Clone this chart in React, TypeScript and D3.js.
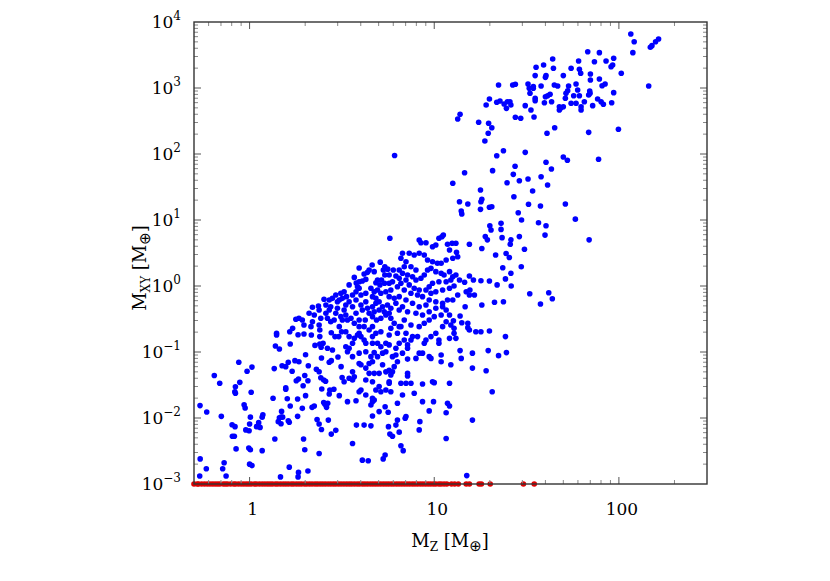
import React, { useEffect, useRef } from "react";
import * as d3 from "d3";

type Pt = [number, number]; // [M_Z, M_XY] in Earth masses

// lower-left tail of the cloud (M_Z < 3.2, M_XY < 0.22)
const lowLeft: Pt[] = [
  [1.40, 0.192], [1.40, 0.181], [1.65, 0.203], [1.83, 0.183], [1.97, 0.187], [2.16, 0.181], [2.40, 0.171], [2.40, 0.216],
  [2.77, 0.196], [2.90, 0.171], [3.04, 0.171], [3.15, 0.203], [1.38, 0.123], [1.45, 0.111], [1.66, 0.132], [2.01, 0.091],
  [2.26, 0.126], [2.40, 0.132], [2.50, 0.136], [2.44, 0.118], [2.64, 0.114], [2.81, 0.107], [0.874, 0.070], [1.03, 0.059],
  [0.969, 0.051], [1.36, 0.056], [1.50, 0.062], [1.57, 0.060], [1.62, 0.070], [1.76, 0.074], [1.85, 0.071], [1.70, 0.051],
  [2.08, 0.062], [2.45, 0.081], [2.70, 0.070], [2.77, 0.074], [3.01, 0.084], [3.13, 0.060], [3.17, 0.041], [0.644, 0.044],
  [0.689, 0.0336], [0.838, 0.0298], [0.885, 0.0347], [0.832, 0.025], [0.838, 0.0237], [1.02, 0.0245], [1.84, 0.039],
  [1.79, 0.0367], [1.99, 0.044], [2.07, 0.0367], [1.95, 0.0308], [2.30, 0.0547], [2.38, 0.0503], [2.43, 0.0408],
  [2.52, 0.0377], [2.58, 0.036], [2.46, 0.0275], [2.72, 0.0266], [2.70, 0.0231], [2.86, 0.0272], [3.06, 0.0218],
  [1.57, 0.0288], [1.57, 0.0272], [1.34, 0.0199], [1.60, 0.0196], [1.82, 0.0194], [2.01, 0.0218], [1.66, 0.0152],
  [1.93, 0.014], [2.18, 0.0145], [2.24, 0.0152], [0.539, 0.0154], [0.586, 0.0123], [0.703, 0.0106], [0.934, 0.0159],
  [0.946, 0.0142], [1.01, 0.0103], [1.18, 0.0112], [1.17, 0.0103], [1.12, 0.0085], [1.14, 0.0072], [1.09, 0.0074],
  [1.0, 0.0081], [0.954, 0.0066], [0.994, 0.0064], [1.49, 0.0126], [1.45, 0.0101], [1.48, 0.0103], [1.51, 0.0103],
  [1.43, 0.0088], [1.48, 0.0082], [1.62, 0.0091], [1.64, 0.0086], [1.82, 0.0106], [2.52, 0.0171], [2.56, 0.0161],
  [2.61, 0.0145], [2.65, 0.0167], [2.32, 0.0095], [2.38, 0.0081], [2.45, 0.0067], [2.67, 0.0093], [2.77, 0.0057],
  [2.93, 0.0065], [0.804, 0.0079], [0.834, 0.0074], [0.807, 0.0053], [0.827, 0.0053], [0.845, 0.0034], [0.99, 0.0035],
  [1.01, 0.0033], [1.17, 0.0032], [1.37, 0.0048], [1.96, 0.0048], [1.99, 0.0033], [2.38, 0.0029], [0.54, 0.0024],
  [0.583, 0.0017], [0.728, 0.0021], [0.715, 0.0017], [0.746, 0.00132], [0.537, 0.00132], [1.0, 0.002], [1.03, 0.0019],
  [1.47, 0.00128], [1.64, 0.0018], [1.84, 0.0015], [1.83, 0.00128], [2.07, 0.00157],
];

// lower middle (M_Z 3.2 - 20, M_XY < 0.22)
const lowMid: Pt[] = [
  [3.32, 0.203], [3.84, 0.181], [3.92, 0.192], [4.01, 0.171], [4.44, 0.216], [4.83, 0.192], [5.14, 0.203], [4.93, 0.136],
  [4.63, 0.136], [4.26, 0.136], [5.47, 0.136], [5.70, 0.181], [6.32, 0.192], [6.46, 0.136], [6.88, 0.152], [7.17, 0.128],
  [7.48, 0.152], [7.63, 0.171], [7.03, 0.192], [8.12, 0.171], [9.02, 0.152], [8.83, 0.136], [9.60, 0.171], [10.2, 0.192],
  [10.6, 0.152], [10.6, 0.136], [12.1, 0.161], [12.8, 0.192], [13.1, 0.161], [16.8, 0.203], [17.9, 0.203], [15.5, 0.216],
  [3.32, 0.12], [3.46, 0.114], [3.39, 0.101], [3.61, 0.136], [3.61, 0.085], [3.92, 0.096], [4.26, 0.101], [4.54, 0.085],
  [4.73, 0.098], [5.25, 0.096], [5.47, 0.101], [5.94, 0.085], [6.20, 0.09], [6.32, 0.071], [7.17, 0.114], [7.17, 0.078],
  [7.96, 0.08], [8.29, 0.096], [8.64, 0.096], [9.39, 0.085], [9.60, 0.08], [10.9, 0.09], [10.9, 0.071], [12.3, 0.064],
  [14.0, 0.08], [16.1, 0.096], [16.1, 0.057], [19.1, 0.052], [19.6, 0.105], [13.8, 0.105], [3.61, 0.05], [3.25, 0.0355],
  [3.46, 0.04], [3.61, 0.0377], [3.69, 0.042], [4.01, 0.064], [4.26, 0.057], [4.44, 0.067], [4.63, 0.071], [5.03, 0.0475],
  [4.73, 0.0475], [5.47, 0.05], [5.70, 0.053], [5.94, 0.05], [6.07, 0.06], [5.70, 0.0355], [5.70, 0.0336], [5.82, 0.045],
  [5.03, 0.03], [5.14, 0.025], [4.83, 0.0266], [4.63, 0.0355], [4.26, 0.0377], [4.01, 0.0266], [3.92, 0.025],
  [3.39, 0.0177], [3.77, 0.0183], [4.26, 0.0223], [4.63, 0.0199], [4.63, 0.0177], [4.54, 0.0157], [4.73, 0.0187],
  [5.47, 0.0266], [5.82, 0.025], [6.60, 0.0336], [7.03, 0.0336], [7.48, 0.0336], [7.17, 0.0475], [7.17, 0.0433],
  [7.79, 0.0237], [6.73, 0.0223], [6.32, 0.0167], [8.64, 0.0327], [9.79, 0.0355], [10.0, 0.0343], [12.1, 0.0336],
  [8.64, 0.0177], [9.91, 0.0177], [11.8, 0.0167], [12.1, 0.0152], [9.39, 0.0128], [11.6, 0.012], [16.1, 0.0093],
  [5.03, 0.0125], [5.42, 0.0148], [5.63, 0.0122], [4.63, 0.0107], [6.32, 0.0093], [6.20, 0.0078], [7.03, 0.0105],
  [6.96, 0.0099], [8.36, 0.0088], [8.29, 0.0066], [6.46, 0.0061], [5.65, 0.0074], [5.75, 0.0057], [5.94, 0.0053],
  [3.79, 0.0078], [4.17, 0.0078], [4.54, 0.0076], [11.6, 0.0049], [3.61, 0.0041], [6.60, 0.0038], [6.79, 0.0032],
  [5.42, 0.00275], [5.29, 0.0024], [4.08, 0.0023], [4.39, 0.00225], [15.0, 0.00134], [3.46, 0.171], [3.69, 0.161],
  [4.17, 0.152], [4.63, 0.171], [5.14, 0.12], [5.70, 0.128], [6.20, 0.114], [6.73, 0.096], [4.93, 0.085], [3.92, 0.067],
  [5.25, 0.064], [4.44, 0.0475],
];

// main clump, M_Z 1.7 - 6.5, M_XY 0.22 - 5
const coreLeft: Pt[] = [
  [5.75, 5.3], [5.1, 2.3], [5.3, 1.75], [5.6, 1.8], [6.0, 1.75], [5.4, 1.96], [6.2, 1.42], [5.7, 1.47], [5.4, 1.47],
  [5.18, 1.23], [4.93, 1.23], [4.73, 1.65], [4.35, 1.61], [4.83, 1.12], [5.08, 1.04], [5.38, 1.1], [5.7, 1.1], [3.69, 1.35],
  [3.46, 1.04], [3.92, 1.16], [4.08, 1.19], [4.26, 1.26], [3.92, 0.923], [3.77, 0.82], [4.01, 0.73], [4.26, 0.775],
  [4.54, 0.923], [4.73, 0.82], [4.93, 0.87], [5.14, 0.775], [5.47, 0.82], [5.82, 0.87], [3.25, 0.82], [3.12, 0.775],
  [3.35, 0.69], [2.93, 0.73], [3.06, 0.614], [2.7, 0.614], [2.81, 0.65], [2.53, 0.63], [2.59, 0.515], [2.75, 0.486],
  [2.99, 0.46], [3.32, 0.515], [3.46, 0.578], [3.77, 0.614], [3.61, 0.486], [4.01, 0.515], [4.26, 0.578], [4.35, 0.46],
  [4.63, 0.486], [4.83, 0.547], [5.03, 0.578], [5.25, 0.486], [5.58, 0.515], [5.82, 0.46], [2.19, 0.476], [2.36, 0.498],
  [2.38, 0.433], [2.24, 0.364], [2.1, 0.386], [1.85, 0.324], [1.78, 0.313], [1.93, 0.305], [1.97, 0.256], [1.71, 0.229],
  [2.43, 0.324], [2.59, 0.386], [2.64, 0.324], [2.75, 0.288], [2.87, 0.305], [3.12, 0.343], [3.18, 0.305], [3.32, 0.364],
  [3.54, 0.324], [3.69, 0.272], [3.92, 0.242], [4.23, 0.305], [4.63, 0.343], [4.87, 0.305], [5.14, 0.324], [5.47, 0.364],
  [5.82, 0.324], [3.06, 0.242], [2.15, 0.242], [4.63, 0.242], [5.82, 0.229], [2.7, 0.433], [2.93, 0.386], [3.25, 0.433],
  [3.39, 0.305], [3.77, 0.386], [4.08, 0.433], [4.44, 0.386], [4.73, 0.408], [5.03, 0.433], [5.36, 0.408], [5.7, 0.386],
  [6.2, 0.547], [6.46, 0.69], [2.38, 0.256], [2.19, 0.288], [3.92, 0.305], [4.17, 0.242], [6.07, 0.272], [6.46, 0.242],
  [2.99, 0.578], [3.18, 0.65], [3.61, 0.73], [3.84, 0.976], [4.63, 0.69], [4.83, 0.65], [5.7, 0.69], [6.07, 0.65],
  [6.32, 0.976], [5.94, 1.16], [6.46, 1.31], [4.44, 1.75], [3.92, 1.87], [4.61, 2.08], [4.17, 1.52], [3.78, 1.11],
];

// main clump, M_Z 6.5 - 42, M_XY 0.17 - 19
const coreRight: Pt[] = [
  [13.7, 18.9], [15.2, 17.5], [17.9, 18.9], [19.9, 15.6], [20.5, 15.9], [17.8, 14.5], [14.0, 13.7], [14.1, 12.3],
  [32.4, 17.3], [37.6, 16.3], [28.5, 12.9], [29.7, 10.0], [36.7, 9.1], [40.3, 8.2], [39.8, 5.9], [23.0, 8.9], [23.0, 7.2],
  [20.0, 8.2], [20.3, 7.05], [18.9, 5.6], [19.4, 5.0], [23.3, 5.4], [26.0, 5.0], [25.8, 4.3], [28.9, 5.6], [18.1, 3.7],
  [15.5, 4.3], [21.5, 2.95], [24.5, 3.1], [25.5, 2.7], [30.8, 3.6], [29.6, 1.96], [23.5, 1.89], [26.0, 1.56], [24.3, 1.28],
  [21.9, 1.04], [26.1, 1.0], [19.9, 1.19], [17.9, 1.2], [16.3, 1.23], [15.5, 1.42], [14.6, 1.14], [14.9, 0.82],
  [15.6, 0.87], [16.5, 0.73], [15.5, 0.73], [18.1, 0.515], [21.2, 0.566], [23.7, 0.578], [32.9, 0.764], [41.7, 0.79],
  [37.6, 0.534], [14.7, 0.486], [13.8, 0.351], [12.7, 0.298], [14.1, 0.278], [15.2, 0.272], [15.2, 0.234], [12.8, 0.229],
  [24.3, 0.171], [19.9, 0.208], [8.29, 4.98], [8.47, 4.53], [9.02, 4.53], [9.79, 3.94], [10.2, 4.18], [11.0, 5.58],
  [11.2, 5.92], [10.6, 5.28], [11.8, 4.28], [12.5, 4.44], [13.1, 4.44], [12.1, 3.51], [13.2, 3.24], [13.4, 2.78],
  [12.6, 2.63], [11.6, 2.48], [10.9, 2.21], [10.4, 2.21], [9.79, 2.33], [9.2, 2.48], [8.83, 2.95], [8.29, 3.13],
  [7.79, 2.95], [7.32, 3.13], [6.73, 3.13], [6.6, 2.63], [7.03, 2.33], [7.48, 1.96], [7.96, 1.75], [6.88, 1.96],
  [6.46, 1.75], [6.73, 1.56], [7.17, 1.47], [7.63, 1.38], [7.96, 1.23], [8.47, 1.31], [8.83, 1.47], [9.2, 1.75],
  [9.6, 1.85], [10.2, 1.65], [10.9, 1.56], [11.3, 1.47], [12.1, 1.65], [12.6, 1.38], [13.1, 1.47], [13.7, 1.23],
  [12.3, 1.23], [11.6, 1.16], [10.6, 1.16], [9.79, 1.1], [9.39, 0.976], [9.02, 0.87], [8.29, 0.87], [7.79, 0.923],
  [7.32, 1.04], [7.03, 1.23], [6.6, 1.1], [6.88, 0.87], [7.48, 0.775], [8.12, 0.73], [8.64, 0.69], [9.6, 0.775],
  [10.2, 0.82], [11.1, 0.87], [12.1, 0.923], [12.8, 1.0], [13.4, 0.73], [12.6, 0.614], [11.8, 0.614], [11.1, 0.547],
  [10.2, 0.578], [9.39, 0.614], [9.02, 0.515], [8.29, 0.486], [7.63, 0.547], [7.03, 0.614], [6.73, 0.486], [6.46, 0.433],
  [7.17, 0.408], [7.96, 0.386], [8.64, 0.364], [9.39, 0.408], [10.2, 0.46], [11.1, 0.486], [11.6, 0.433], [12.1, 0.364],
  [10.9, 0.364], [10.0, 0.343], [9.39, 0.305], [8.83, 0.272], [8.29, 0.242], [7.48, 0.256], [6.88, 0.305], [6.6, 0.242],
  [11.1, 0.242], [11.6, 0.288], [12.3, 0.256],
];

// upper arm, M_Z 12 - 170, M_XY 10 - 7000
const upperArm: Pt[] = [
  [35.6, 2060], [39.1, 2230], [44.2, 1990], [55.1, 1990], [61.1, 1920], [60.5, 2570], [73.7, 2500], [85.2, 2570],
  [90.7, 2100], [92.5, 2230], [103, 1670], [35.2, 1540], [40.0, 1450], [40.3, 1540], [50.0, 1540], [62.1, 1670],
  [70.1, 1630], [70.1, 1320], [78.4, 1370], [84.2, 1150], [81.1, 1080], [22.3, 1110], [26.6, 1110], [27.5, 1140],
  [32.2, 1150], [32.7, 990], [34.4, 1050], [34.4, 990], [37.9, 1070], [44.7, 1110], [46.6, 1070], [53.4, 1070],
  [58.6, 1150], [52.8, 910], [59.8, 933], [56.9, 764], [61.1, 764], [69.5, 901], [69.8, 832], [93.7, 850], [19.9, 681],
  [19.1, 552], [21.8, 607], [22.7, 635], [23.9, 573], [24.9, 620], [25.7, 620], [26.0, 552], [24.6, 492], [31.1, 540],
  [33.0, 832], [33.4, 464], [35.2, 698], [35.2, 643], [40.0, 738], [41.1, 764], [39.5, 598], [42.4, 803], [43.2, 620],
  [47.6, 521], [47.6, 464], [48.6, 503], [50.0, 521], [51.3, 698], [51.7, 832], [55.1, 586], [58.6, 586], [62.4, 521],
  [62.4, 464], [65.0, 620], [68.6, 783], [72.1, 540], [76.7, 681], [80.1, 620], [82.4, 566], [91.4, 598], [13.8, 400],
  [13.4, 339], [17.4, 302], [19.7, 292], [20.5, 250], [19.6, 206], [18.8, 157], [27.5, 360], [29.4, 348], [34.7, 364],
  [40.8, 206], [44.9, 250], [68.6, 213], [99.4, 237], [23.7, 112], [21.8, 94.2], [31.1, 106], [20.7, 55.9], [14.6, 52.1],
  [12.6, 36.0], [27.4, 65.1], [26.8, 49.2], [24.8, 36.7], [28.9, 39.4], [32.2, 41.8], [40.3, 74.9], [37.9, 45.3],
  [43.1, 59.3], [41.1, 33.9], [50.0, 90.1], [52.6, 80.3], [77.6, 83.2], [34.1, 27.5], [17.8, 28.5], [18.1, 20.6],
  [27.0, 22.5], [51.3, 17.5], [58.1, 10.3], [116, 6580], [121, 5030], [119, 3430], [148, 4140], [151, 4380],
  [158, 5030], [164, 5530], [145, 1070], [67.8, 3550], [78.4, 3430], [93.7, 2820], [43.8, 2750],
];

// isolated points
const strays: Pt[] = [
  [6.1, 95], [69, 5.0], [43.6, 0.64], [24.6, 0.098], [22.3, 0.088], [20.6, 0.025],
];

// red: runs that end on the M_XY floor
const floorMz: number[] = [
  0.50, 0.52, 0.53, 0.55, 0.57, 0.59, 0.61, 0.63, 0.65, 0.67, 0.69, 0.72, 0.74, 0.76, 0.79, 0.82, 0.84, 0.87, 0.90,
  0.93, 0.96, 0.99, 1.02, 1.06, 1.09, 1.13, 1.17, 1.21, 1.25, 1.29, 1.33, 1.38, 1.42, 1.47, 1.52, 1.57, 1.62, 1.68,
  1.73, 1.79, 1.85, 1.91, 1.98, 2.04, 2.11, 2.18, 2.26, 2.33, 2.41, 2.49, 2.57, 2.66, 2.75, 2.84, 2.93, 3.03, 3.13,
  3.24, 3.35, 3.46, 3.57, 3.69, 3.82, 3.94, 4.08, 4.21, 4.35, 4.50, 4.65, 4.80, 4.96, 5.13, 5.30, 5.48, 5.66, 5.85,
  6.04, 6.25, 6.45, 6.67, 6.89, 7.12, 7.36, 7.61, 7.86, 8.12, 8.40, 8.68, 8.97, 9.27, 9.58, 9.90, 10.2, 10.6, 10.9,
  11.3, 11.7, 12.4, 12.9, 13.5, 14.9, 15.5, 17.5, 18.0, 20.1, 30.4, 34.8,
];
const FLOOR_MXY = 1e-3;

const xLabels = [1, 10, 100];
const yExponents = [-3, -2, -1, 0, 1, 2, 3, 4];

export default function App() {
  const svgRef = useRef<SVGSVGElement>(null);

  useEffect(() => {
    if (!svgRef.current) return;
    const svg = d3.select(svgRef.current);
    svg.selectAll("*").remove();

    const left = 194, right = 707, top = 22, bottom = 484;
    const font = "'DejaVu Serif', serif";

    const x = d3.scaleLog().domain([0.5, 300]).range([left, right]);
    const y = d3.scaleLog().domain([1e-3, 1e4]).range([bottom, top]);

    const blue = [...lowLeft, ...lowMid, ...coreLeft, ...coreRight, ...upperArm, ...strays];

    svg.append("g")
      .selectAll("circle")
      .data(blue)
      .join("circle")
      .attr("cx", (d) => x(d[0]))
      .attr("cy", (d) => y(d[1]))
      .attr("r", 2.8)
      .attr("fill", "#0000ff");

    svg.append("g")
      .selectAll("circle")
      .data(floorMz)
      .join("circle")
      .attr("cx", (d) => x(d))
      .attr("cy", y(FLOOR_MXY))
      .attr("r", 2.8)
      .attr("fill", "#e00000");

    // ticks point inward on all four sides
    const isMajor = (v: number) => Math.abs(Math.log10(v) - Math.round(Math.log10(v))) < 1e-9;
    const tg = svg.append("g").attr("stroke-width", 1);

    x.ticks().filter((v) => v > 0.5 && v < 300).forEach((v) => {
      const len = isMajor(v) ? 7 : 4;
      const px = x(v);
      const col = isMajor(v) ? "#555" : "#888";
      tg.append("line").attr("x1", px).attr("x2", px).attr("y1", bottom).attr("y2", bottom - len).attr("stroke", col);
      tg.append("line").attr("x1", px).attr("x2", px).attr("y1", top).attr("y2", top + len).attr("stroke", col);
    });

    y.ticks().filter((v) => v > 1e-3 && v < 1e4).forEach((v) => {
      const len = isMajor(v) ? 7 : 4;
      const py = y(v);
      const col = isMajor(v) ? "#555" : "#888";
      tg.append("line").attr("x1", left).attr("x2", left + len).attr("y1", py).attr("y2", py).attr("stroke", col);
      tg.append("line").attr("x1", right).attr("x2", right - len).attr("y1", py).attr("y2", py).attr("stroke", col);
    });

    // frame on top of the points
    svg.append("rect")
      .attr("x", left)
      .attr("y", top)
      .attr("width", right - left)
      .attr("height", bottom - top)
      .attr("fill", "none")
      .attr("stroke", "#333")
      .attr("stroke-width", 1.4);

    // y tick labels 10^n
    yExponents.forEach((e) => {
      const t = svg.append("text")
        .attr("x", 181)
        .attr("y", y(Math.pow(10, e)) + 6)
        .attr("text-anchor", "end")
        .attr("font-family", font)
        .attr("font-size", 17)
        .attr("fill", "#000");
      t.append("tspan").text("10");
      t.append("tspan").attr("dy", -8).attr("font-size", 12).text(e < 0 ? `\u2212${-e}` : `${e}`);
    });

    // x tick labels
    xLabels.forEach((v) => {
      svg.append("text")
        .attr("x", x(v) + 3)
        .attr("y", 515)
        .attr("text-anchor", "middle")
        .attr("font-family", font)
        .attr("font-size", 17)
        .attr("fill", "#000")
        .text(String(v));
    });

    // axis titles
    const title = (g: d3.Selection<any, unknown, null, undefined>, sub: string) => {
      const t = g.append("text")
        .attr("text-anchor", "middle")
        .attr("font-family", font)
        .attr("font-size", 18)
        .attr("fill", "#000");
      t.append("tspan").text("M");
      t.append("tspan").attr("dy", 4).attr("font-size", 12).text(sub);
      t.append("tspan").attr("dy", -4).text(" [M");
      t.append("tspan").attr("dy", 4).attr("font-size", 15).attr("font-family", "'DejaVu Sans', sans-serif").text("\u2295");
      t.append("tspan").attr("dy", -4).text("]");
    };

    title(svg.append("g").attr("transform", "translate(450,547)"), "Z");
    title(svg.append("g").attr("transform", "translate(146,268) rotate(-90)"), "XY");
  }, []);

  return (
    <svg
      ref={svgRef}
      width={830}
      height={581}
      style={{ position: "absolute", left: 0, top: 0, background: "#fff" }}
    />
  );
}
